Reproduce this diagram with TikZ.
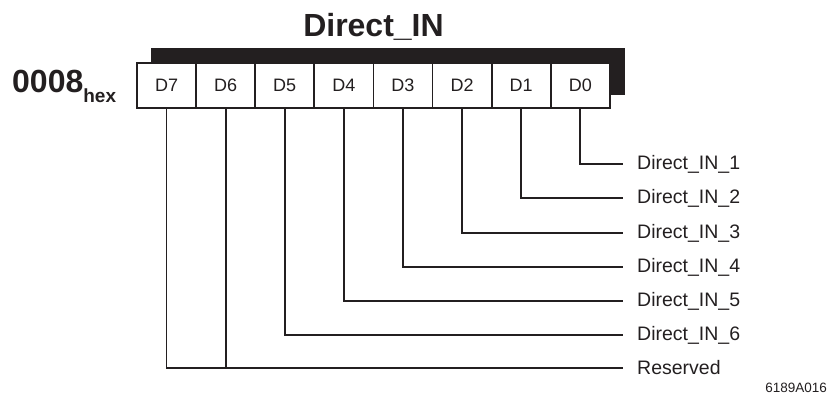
\documentclass[tikz,border=0pt]{standalone}
\usepackage{fontspec}
\setmainfont{Liberation Sans}
\definecolor{ink}{RGB}{35,31,32}
\begin{document}
\begin{tikzpicture}[x=1pt,y=-1pt,
  cell/.style={draw=ink,line width=1.8pt,fill=white,minimum width=59.1pt,
    minimum height=45pt,inner sep=0pt,outer sep=0pt,
    font=\fontsize{18}{18}\selectfont,text=ink},
  lbl/.style={anchor=west,inner sep=0pt,font=\fontsize{19.5}{19.5}\selectfont,text=ink},
  wire/.style={draw=ink,line width=1.8pt,shorten >=14pt}]
\useasboundingbox (0,0) rectangle (832,397);
% register title and address
\node[anchor=base,inner sep=0pt,font=\bfseries\fontsize{32}{32}\selectfont,text=ink]
  (title) at (373.5,36) {Direct\_IN};
\node[anchor=base west,inner sep=0pt,font=\bfseries\fontsize{32}{32}\selectfont,text=ink]
  (addr) at (12,92) {0008\raisebox{-10pt}{\fontsize{19}{19}\selectfont hex}};
% black shadow behind the bit cells
\fill[ink] (151,48) rectangle (625,95);
% bit cells
\foreach \i [count=\k from 0] in {7,6,5,4,3,2,1,0}
  \node[cell] (d\i) at (137+29.55+59.1*\k,85.5) {D\i};
% field labels
\node[lbl] (l1) at (637,164) {Direct\_IN\_1};
\node[lbl] (l2) at (637,198) {Direct\_IN\_2};
\node[lbl] (l3) at (637,233) {Direct\_IN\_3};
\node[lbl] (l4) at (637,267) {Direct\_IN\_4};
\node[lbl] (l5) at (637,301) {Direct\_IN\_5};
\node[lbl] (l6) at (637,335) {Direct\_IN\_6};
\node[lbl] (res) at (637,368) {Reserved};
\node[anchor=east,inner sep=0pt,font=\fontsize{13.5}{13.5}\selectfont,text=ink]
  (fig) at (827,388) {6189A016};
% bit-to-field connectors
\draw[wire] (d0.south) |- (l1.west);
\draw[wire] (d1.south) |- (l2.west);
\draw[wire] (d2.south) |- (l3.west);
\draw[wire] (d3.south) |- (l4.west);
\draw[wire] (d4.south) |- (l5.west);
\draw[wire] (d5.south) |- (l6.west);
\draw[wire] (d7.south) |- (res.west);
\draw[draw=ink,line width=1.8pt] (d6.south) -- (d6.south |- res.west);
\end{tikzpicture}
\end{document}
